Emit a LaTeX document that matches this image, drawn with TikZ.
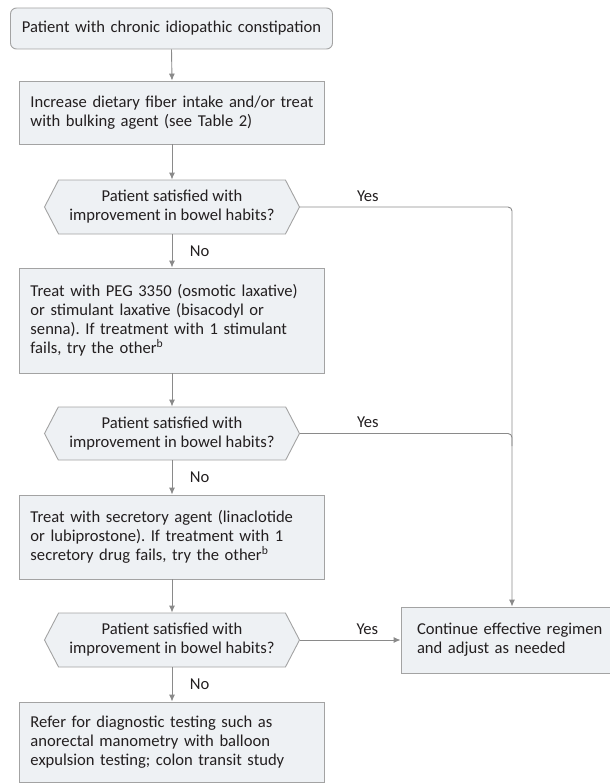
\documentclass[tikz,border=0pt]{standalone}
\usepackage{fontspec}
\setmainfont{Carlito}
\usetikzlibrary{arrows.meta,shapes.symbols}

\definecolor{boxfill}{HTML}{EEF1F4}
\definecolor{boxline}{HTML}{A3A3A3}
\definecolor{arrowgray}{HTML}{8A8A8A}
\definecolor{txt}{HTML}{231F20}

\tikzset{
	stepbox/.style={draw=boxline, fill=boxfill, line width=0.9pt, text=txt,
		text width=283pt, inner xsep=11pt, inner ysep=0pt, align=left},
	decbox/.style={signal, signal to=west and east, signal pointer angle=125,
		draw=boxline, fill=boxfill, line width=0.9pt, text=txt,
		minimum width=255pt, minimum height=54pt, inner sep=0pt, align=center},
	link/.style={draw=arrowgray, line width=0.9pt},
	flow/.style={link, arrows={-Latex[length=7pt,width=6pt]}},
	lbl/.style={text=txt}
}

\frenchspacing
\begin{document}
\begin{tikzpicture}[x=1pt, y=-1pt, font=\fontsize{16.6}{19}\selectfont]
	\useasboundingbox (0,0) rectangle (610,784);
	\clip (0,0) rectangle (610,784);

	% Colonne principale
	\node[stepbox, rounded corners=6pt, text width=312pt, inner xsep=5pt, align=center,
		minimum height=41pt] (start) at (171.5,28.5)
		{Patient with chronic idiopathic constipation};
	\node[stepbox, minimum height=63pt] (fiber) at (172,112.5)
		{Increase dietary fiber intake and/or treat\\
		with bulking agent (see Table 2)};
	\node[decbox] (sat1) at (172,207)
		{Patient satisfied with\\improvement in bowel habits?};
	\node[stepbox, minimum height=105pt] (laxative) at (172,320.5)
		{Treat with PEG 3350 (osmotic laxative)\\
		or stimulant laxative (bisacodyl or\\
		senna). If treatment with 1 stimulant\\
		fails, try the other\textsuperscript{b}};
	\node[decbox, minimum height=53pt] (sat2) at (172,433.5)
		{Patient satisfied with\\improvement in bowel habits?};
	\node[stepbox, minimum height=84pt] (secretory) at (172,537)
		{Treat with secretory agent (linaclotide\\
		or lubiprostone). If treatment with 1\\
		secretory drug fails, try the other\textsuperscript{b}};
	\node[decbox] (sat3) at (172,640)
		{Patient satisfied with\\improvement in bowel habits?};
	\node[stepbox, minimum height=80pt] (refer) at (172,742)
		{Refer for diagnostic testing such as\\
		anorectal manometry with balloon\\
		expulsion testing; colon transit study};

	% Sortie (coupee par le bord droit)
	\node[stepbox, text width=210pt, inner xsep=16pt, minimum height=66pt] (continue) at (522,640)
		{Continue effective regimen\\and adjust as needed};
	\coordinate (entry) at ([xshift=-10pt]continue.north);

	% Fleches "No"
	\draw[flow] (start.south) -- (fiber.north);
	\draw[flow] (fiber.south) -- (sat1.north);
	\draw[flow] (sat1.south) -- node[lbl, midway, right, xshift=14pt] {No} (laxative.north);
	\draw[flow] (laxative.south) -- (sat2.north);
	\draw[flow] (sat2.south) -- node[lbl, midway, right, xshift=14pt] {No} (secretory.north);
	\draw[flow] (secretory.south) -- (sat3.north);
	\draw[flow] (sat3.south) -- node[lbl, midway, right, xshift=14pt] {No} (refer.north);

	% Fleches "Yes"
	\coordinate (join2) at (512,446);
	\draw[flow, rounded corners=4pt] (sat1.east)
		-- node[lbl, pos=0.32, above, yshift=2pt] {Yes} (sat1.east -| entry)
		-- (entry);
	\draw[link, rounded corners=4pt] (sat2.east)
		-- node[lbl, pos=0.32, above, yshift=2pt] {Yes} (sat2.east -| join2)
		-- (join2);
	\draw[flow] (sat3.east) -- node[lbl, pos=0.67, above, yshift=2pt] {Yes} (continue.west);
\end{tikzpicture}
\end{document}
